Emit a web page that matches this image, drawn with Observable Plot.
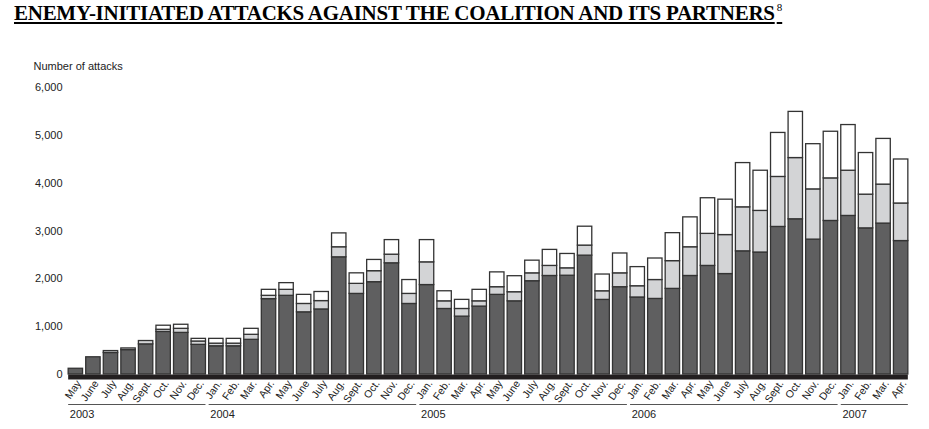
<!DOCTYPE html>
<html>
<head>
<meta charset="utf-8">
<script src="https://cdn.jsdelivr.net/npm/d3@7"></script>
<script src="https://cdn.jsdelivr.net/npm/@observablehq/plot@0.6"></script>
<style>
  body { margin: 0; background: #fff; width: 929px; height: 429px; overflow: hidden; position: relative; }
  #title { position: absolute; left: 14px; top: 1px; white-space: nowrap;
    font-family: "Liberation Serif", "Times New Roman", serif; font-weight: bold; font-size: 21px;
    letter-spacing: -0.27px;
    text-decoration: underline; text-decoration-thickness: 2px; text-underline-offset: 2px; color: #000; }
  #title sup { font-size: 11px; font-weight: normal; vertical-align: 9px; letter-spacing: 0; margin-left: 2px; }
  #chart { position: absolute; left: 0; top: 30px; }
</style>
</head>
<body>
<div id="title">ENEMY-INITIATED ATTACKS AGAINST THE COALITION AND ITS PARTNERS<sup>8</sup></div>
<div id="chart"></div>
<script>
// Month tick labels, May 2003 – Apr 2007
const monthLabels = [
  "May","June","July","Aug.","Sept.","Oct.","Nov.","Dec.",
  "Jan.","Feb.","Mar.","Apr.","May","June","July","Aug.","Sept.","Oct.","Nov.","Dec.",
  "Jan.","Feb.","Mar.","Apr.","May","June","July","Aug.","Sept.","Oct.","Nov.","Dec.",
  "Jan.","Feb.","Mar.","Apr.","May","June","July","Aug.","Sept.","Oct.","Nov.","Dec.",
  "Jan.","Feb.","Mar.","Apr."
];
// Year groups: label, first and last month index
const yearLabels = ["2003", "2004", "2005", "2006", "2007"];
const yearStart  = [0, 8, 20, 32, 44];
const yearEnd    = [7, 19, 31, 43, 47];

// Series values (number of attacks), bottom to top
const darkSeries = [
  120,360,450,510,630,890,870,620,
  590,590,725,1575,1645,1300,1360,2450,1685,1930,2325,1475,
  1870,1370,1210,1420,1665,1530,1950,2060,2065,2485,1560,1825,
  1610,1580,1790,2060,2270,2100,2575,2550,3085,3245,2820,3210,
  3315,3055,3155,2790
];
const lightSeries = [
  0,0,40,35,70,45,85,70,
  55,55,105,70,125,175,175,210,210,230,180,210,
  475,160,160,110,160,190,165,210,155,210,180,290,
  235,395,580,600,670,815,920,870,1045,1280,1050,890,
  945,705,815,785
];
const whiteSeries = [
  0,0,0,0,0,85,85,55,
  100,100,125,125,140,190,190,290,220,235,305,290,
  465,210,190,240,310,335,265,335,300,395,350,415,
  400,450,585,625,745,740,925,840,920,965,945,975,
  955,870,955,920
];
const seriesNames = ["dark", "light", "white"];
const seriesColors = ["#5f5f60", "#d3d4d6", "#ffffff"];
const yTicks = [0, 1000, 2000, 3000, 4000, 5000, 6000];

const rows = [];
[darkSeries, lightSeries, whiteSeries].forEach((vals, s) => {
  vals.forEach((v, i) => { if (v > 0) rows.push({i, value: v, series: seriesNames[s]}); });
});
const years = yearLabels.map((label, k) => ({label, start: yearStart[k], end: yearEnd[k]}));

const font = "'Liberation Sans', Arial, Helvetica, sans-serif";

const chart = Plot.plot({
  width: 929,
  height: 399,
  marginLeft: 65,
  marginRight: 18,
  marginTop: 57,
  marginBottom: 55,
  style: {fontFamily: font, fontSize: "11px", color: "#222", background: "#fff", overflow: "visible"},
  x: {type: "band", domain: d3.range(monthLabels.length), padding: 0.18, round: false, axis: null},
  y: {domain: [0, 6000], axis: null},
  color: {domain: seriesNames, range: seriesColors},
  marks: [
    Plot.barY(rows, {x: "i", y: "value", fill: "series", stroke: "#333", strokeWidth: 1.3}),
    Plot.ruleY([0], {x1: 0, x2: monthLabels.length - 1, stroke: "#231f20", strokeWidth: 5, dy: 2.5}),
    Plot.axisY({ticks: yTicks, tickFormat: d3.format(","), tickSize: 0, tickPadding: 3, label: null, fontSize: 11}),
    Plot.axisX({tickRotate: -55, tickSize: 0, tickPadding: 7, tickFormat: (i) => monthLabels[i], label: null, fontSize: 10.5, dx: 3}),
    Plot.text(["Number of attacks"], {frameAnchor: "top-left", dx: -32, dy: -25, textAnchor: "start", fontSize: 11}),
    Plot.ruleY(years, {x1: "start", x2: "end", y: 0, dy: 30, stroke: "#555", strokeWidth: 1.2}),
    Plot.text(years, {x: "start", y: 0, text: "label", dy: 40, dx: -6, textAnchor: "start", fontSize: 11})
  ]
});
document.getElementById("chart").appendChild(chart);
</script>
</body>
</html>
